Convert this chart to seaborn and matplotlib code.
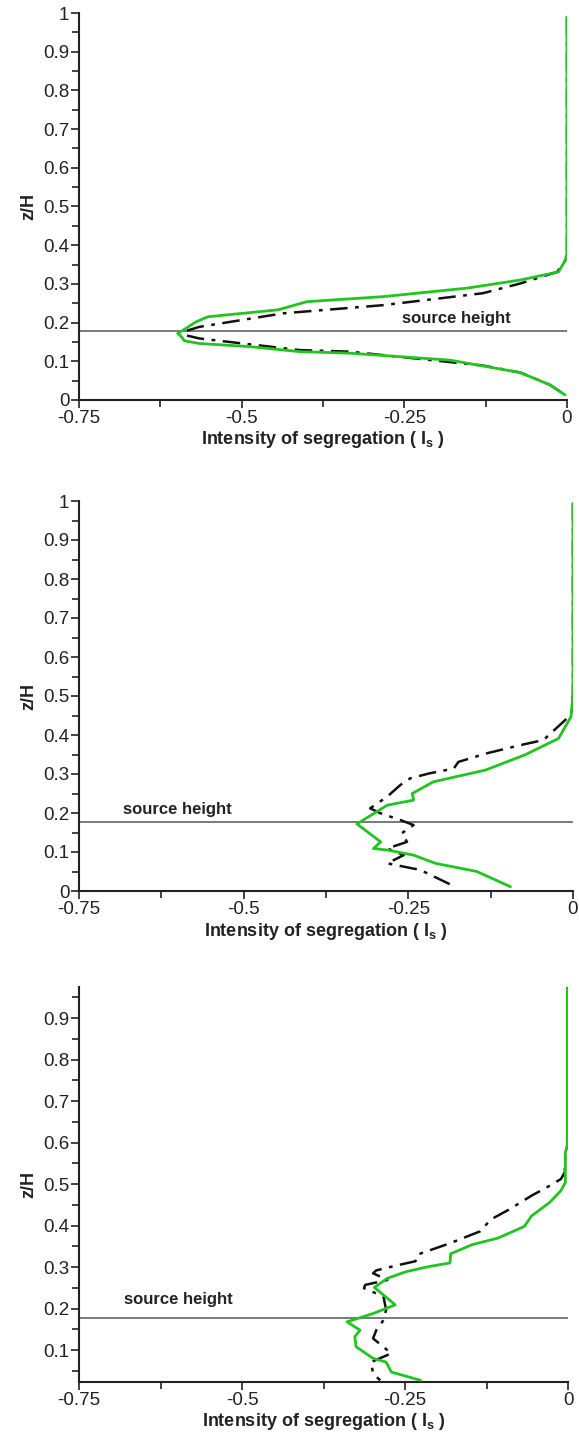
import matplotlib
matplotlib.use("Agg")
import matplotlib.pyplot as plt
import seaborn as sns
import numpy as np
from matplotlib.ticker import MultipleLocator, FuncFormatter

# ---- data (x = Is, y = z/H) ----
# top panel
top_green_x = [0.0, 0.0, -0.003, -0.013, -0.072, -0.154, -0.283, -0.40, -0.444, -0.552, -0.57,
               -0.598, -0.593, -0.588, -0.565, -0.488, -0.411, -0.334, -0.18, -0.072, -0.026, -0.003]
top_green_y = [0.99, 0.38, 0.36, 0.331, 0.310, 0.289, 0.267, 0.254, 0.233, 0.215, 0.202,
               0.172, 0.164, 0.153, 0.146, 0.138, 0.125, 0.121, 0.103, 0.071, 0.039, 0.013]
top_black_x = [0.0, 0.0, -0.003, -0.015, -0.072, -0.129, -0.283, -0.436, -0.565, -0.598,
               -0.565, -0.411, -0.334, -0.129, -0.072, -0.026, -0.003]
top_black_y = [0.99, 0.38, 0.36, 0.331, 0.301, 0.276, 0.245, 0.224, 0.189, 0.172,
               0.159, 0.129, 0.125, 0.089, 0.071, 0.039, 0.013]

# middle panel
mid_green_x = [0.0, 0.0, -0.003, -0.022, -0.073, -0.133, -0.212, -0.244, -0.242, -0.282,
               -0.328, -0.292, -0.303, -0.282, -0.242, -0.209, -0.146, -0.095]
mid_green_y = [0.994, 0.507, 0.447, 0.391, 0.349, 0.310, 0.280, 0.250, 0.233, 0.220,
               0.172, 0.126, 0.109, 0.105, 0.092, 0.071, 0.050, 0.011]
mid_black_x = [0.0, 0.0, -0.002, -0.012, -0.045, -0.08, -0.131, -0.174, -0.181, -0.217, -0.247,
               -0.262, -0.282, -0.308, -0.292, -0.262, -0.242, -0.260, -0.252, -0.282,
               -0.257, -0.282, -0.232, -0.179]
mid_black_y = [0.994, 0.507, 0.460, 0.438, 0.387, 0.374, 0.353, 0.331, 0.314, 0.302, 0.289,
               0.272, 0.242, 0.212, 0.199, 0.182, 0.169, 0.148, 0.126, 0.109,
               0.092, 0.071, 0.054, 0.011]

# bottom panel
bot_green_x = [-0.001, -0.001, -0.004, -0.004, -0.011, -0.028, -0.056, -0.067, -0.107, -0.147,
               -0.180, -0.181, -0.214, -0.248, -0.277, -0.297, -0.265, -0.299, -0.339,
               -0.319, -0.327, -0.325, -0.299, -0.279, -0.271, -0.226]
bot_green_y = [0.975, 0.593, 0.577, 0.504, 0.484, 0.456, 0.423, 0.398, 0.370, 0.354,
               0.332, 0.310, 0.301, 0.289, 0.273, 0.251, 0.209, 0.188, 0.168,
               0.148, 0.132, 0.108, 0.080, 0.071, 0.047, 0.027]
bot_black_x = [-0.001, -0.001, -0.004, -0.005, -0.011, -0.028, -0.056, -0.09, -0.118, -0.135,
               -0.180, -0.231, -0.234, -0.260, -0.294, -0.299, -0.277, -0.311, -0.313, -0.283,
               -0.279, -0.283, -0.294, -0.299, -0.271, -0.302, -0.299, -0.288]
bot_black_y = [0.975, 0.593, 0.577, 0.528, 0.512, 0.496, 0.472, 0.439, 0.415, 0.386,
               0.358, 0.330, 0.314, 0.305, 0.292, 0.285, 0.269, 0.257, 0.249, 0.229,
               0.197, 0.172, 0.148, 0.128, 0.092, 0.071, 0.043, 0.027]

source_height = 0.178
x_ticks = [-0.75, -0.5, -0.25, 0]
x_tick_labels = ["-0.75", "-0.5", "-0.25", "0"]

sns.set_theme(style="ticks")
plt.rcParams["font.family"] = ["Liberation Sans", "DejaVu Sans"]
plt.rcParams["axes.linewidth"] = 1.5
plt.rcParams["axes.edgecolor"] = "#222222"

fig = plt.figure(figsize=(5.79, 14.37), dpi=100)

panels = [
    dict(rect=[79 / 579, 1037 / 1437, 488 / 579, 387 / 1437], ylim=(0, 1),
         green=(top_green_x, top_green_y), black=(top_black_x, top_black_y),
         text_xy=(-0.254, 0.19)),
    dict(rect=[79 / 579, 546 / 1437, 494 / 579, 390 / 1437], ylim=(0, 1),
         green=(mid_green_x, mid_green_y), black=(mid_black_x, mid_black_y),
         text_xy=(-0.683, 0.19)),
    dict(rect=[79 / 579, 55 / 1437, 489 / 579, 395 / 1437], ylim=(0.023, 0.975),
         green=(bot_green_x, bot_green_y), black=(bot_black_x, bot_black_y),
         text_xy=(-0.681, 0.203)),
]

for p in panels:
    ax = fig.add_axes(p["rect"])
    ax.axhline(source_height, color="#555555", lw=1.1, zorder=1)
    sns.lineplot(x=p["black"][0], y=p["black"][1], sort=False, estimator=None, ax=ax,
                 color="#111111", lw=1.8, dashes=False, zorder=2)
    ax.lines[-1].set_dashes([7, 3, 1.5, 3])
    sns.lineplot(x=p["green"][0], y=p["green"][1], sort=False, estimator=None, ax=ax,
                 color="#22c41f", lw=2.0, zorder=3)
    ax.text(p["text_xy"][0], p["text_xy"][1], "source height", fontsize=12,
            fontweight="bold", color="#222222", ha="left", va="bottom")

    ax.set_xlim(-0.75, 0)
    ax.set_ylim(*p["ylim"])
    ax.set_xticks(x_ticks)
    ax.set_xticklabels(x_tick_labels)
    ax.xaxis.set_minor_locator(MultipleLocator(0.125))
    ax.yaxis.set_major_locator(MultipleLocator(0.1))
    ax.yaxis.set_minor_locator(MultipleLocator(0.05))
    ax.yaxis.set_major_formatter(FuncFormatter(lambda v, pos: f"{v:g}"))
    ax.tick_params(which="both", direction="out", width=1.2, color="#222222")
    ax.tick_params(which="major", length=6, labelsize=13.5, pad=1, labelcolor="#222222")
    ax.tick_params(which="minor", length=5)
    sns.despine(ax=ax)

    ax.set_xlabel(r"Intensity of segregation ( $\mathregular{I_s}$ )", fontsize=13,
                  fontweight="bold", labelpad=2, color="#222222")
    ax.set_ylabel("z/H", fontsize=13, fontweight="bold", labelpad=4, color="#222222")

fig.savefig("out.png", dpi=100)
